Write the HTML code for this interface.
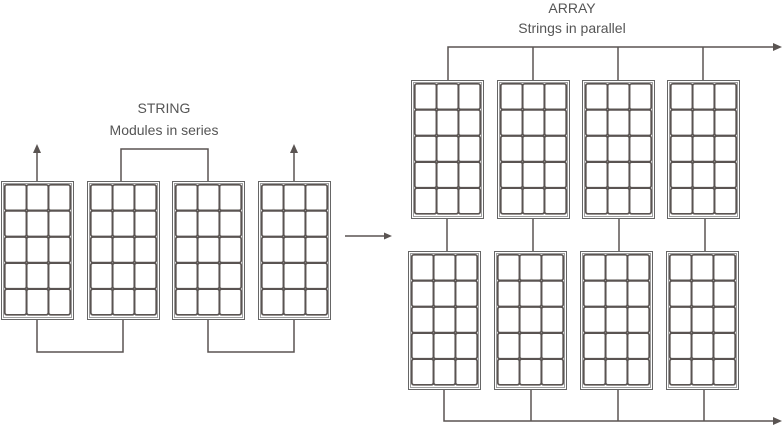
<!DOCTYPE html>
<html><head><style>
html,body{margin:0;padding:0;background:#fff;}
svg{display:block}
text{font-family:"Liberation Sans Narrow","Liberation Sans",sans-serif;fill:#555;font-size:14px;}
</style></head><body>
<svg width="783" height="426" viewBox="0 0 783 426" xmlns="http://www.w3.org/2000/svg">
<defs>
<g id="p">
<rect x="0.5" y="0.5" width="72" height="138" fill="#fff" stroke="#666" stroke-width="1"/>
<rect x="2.5" y="2.5" width="68" height="134" fill="none" stroke="#777" stroke-width="0.7"/>
<g fill="none" stroke="#5a5452" stroke-width="1.7">
<rect x="3.8" y="3.8" width="21.6" height="25.6" rx="2"/><rect x="25.7" y="3.8" width="21.6" height="25.6" rx="2"/><rect x="47.6" y="3.8" width="21.6" height="25.6" rx="2"/>
<rect x="3.8" y="29.9" width="21.6" height="25.6" rx="2"/><rect x="25.7" y="29.9" width="21.6" height="25.6" rx="2"/><rect x="47.6" y="29.9" width="21.6" height="25.6" rx="2"/>
<rect x="3.8" y="56" width="21.6" height="25.6" rx="2"/><rect x="25.7" y="56" width="21.6" height="25.6" rx="2"/><rect x="47.6" y="56" width="21.6" height="25.6" rx="2"/>
<rect x="3.8" y="82.1" width="21.6" height="25.6" rx="2"/><rect x="25.7" y="82.1" width="21.6" height="25.6" rx="2"/><rect x="47.6" y="82.1" width="21.6" height="25.6" rx="2"/>
<rect x="3.8" y="108.2" width="21.6" height="25.6" rx="2"/><rect x="25.7" y="108.2" width="21.6" height="25.6" rx="2"/><rect x="47.6" y="108.2" width="21.6" height="25.6" rx="2"/>
</g>
</g>
</defs>
<g stroke="#5a5452" stroke-width="1.5" fill="none">
<line x1="37" y1="181" x2="37" y2="152"/>
<polyline points="121,181 121,149 208,149 208,181"/>
<polyline points="37,320 37,352 123,352 123,320"/>
<polyline points="208,320 208,352 294,352 294,320"/>
<line x1="294" y1="181" x2="294" y2="152"/>
<line x1="345" y1="236" x2="386" y2="236"/>
<polyline points="448,80 448,47 774,47"/>
<line x1="533" y1="47" x2="533" y2="80"/>
<line x1="618" y1="47" x2="618" y2="80"/>
<line x1="703" y1="47" x2="703" y2="80"/>
<line x1="447" y1="219" x2="447" y2="251"/>
<line x1="533" y1="219" x2="533" y2="251"/>
<line x1="619" y1="219" x2="619" y2="251"/>
<line x1="705" y1="219" x2="705" y2="251"/>
<polyline points="444,390 444,421 774,421"/>
<line x1="531" y1="390" x2="531" y2="421"/>
<line x1="618" y1="390" x2="618" y2="421"/>
<line x1="704" y1="390" x2="704" y2="421"/>
</g>
<g fill="#5a5452">
<polygon points="37,144 33,153 41,153"/>
<polygon points="294,144 290,153 298,153"/>
<polygon points="392,236 384,232.5 384,239.5"/>
<polygon points="782,47 773,43 773,51"/>
<polygon points="782,421 773,417 773,425"/>
</g>
<use href="#p" x="1" y="181"/>
<use href="#p" x="87" y="181"/>
<use href="#p" x="172" y="181"/>
<use href="#p" x="258" y="181"/>
<use href="#p" x="411" y="80"/>
<use href="#p" x="497" y="80"/>
<use href="#p" x="582" y="80"/>
<use href="#p" x="667" y="80"/>
<use href="#p" x="408" y="251"/>
<use href="#p" x="494" y="251"/>
<use href="#p" x="580" y="251"/>
<use href="#p" x="666" y="251"/>
<text x="164" y="113" text-anchor="middle">STRING</text>
<text x="164" y="135" text-anchor="middle">Modules in series</text>
<text x="572" y="13" text-anchor="middle">ARRAY</text>
<text x="572" y="33" text-anchor="middle">Strings in parallel</text>
</svg>
</body></html>
